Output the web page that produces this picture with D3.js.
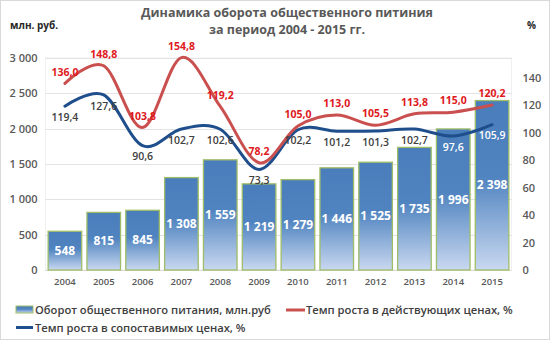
<!DOCTYPE html>
<html><head><meta charset="utf-8">
<script src="https://cdn.jsdelivr.net/npm/d3@7"></script>
<style>
html,body{margin:0;padding:0;background:#fff;}
svg{display:block;font-family:"Open Sans",sans-serif;}
</style></head>
<body><svg id="c" width="550" height="340"></svg>
<script>
const years = ["2004","2005","2006","2007","2008","2009","2010","2011","2012","2013","2014","2015"];
const turnover = [548,815,845,1308,1559,1219,1279,1446,1525,1735,1996,2398];
const growthCurrent = [136.0,148.8,103.8,154.8,119.2,78.2,105.0,113.0,105.5,113.8,115.0,120.2];
const growthComparable = [119.4,127.6,90.6,102.7,102.6,73.3,102.2,101.2,101.3,102.7,97.6,105.9];
const leftTicks = [0,500,1000,1500,2000,2500,3000];
const rightTicks = [0,20,40,60,80,100,120,140];
const titleLines = ["Динамика оборота общественного питиния","за период 2004 - 2015 гг."];
const legendLabels = ["Оборот общественного питания, млн.руб","Темп роста в действующих ценах, %","Темп роста в сопоставимых ценах, %"];

const svg = d3.select("#c");
const W = 550, H = 340;
const plot = {left:45.5, right:511.5, top:58, bottom:270};
const fmtSpace = v => d3.format(",")(v).replace(/,/g," ");
const fmtComma = v => v.toFixed(1).replace(".",",");

svg.append("rect").attr("x",0.5).attr("y",0.5).attr("width",W-1).attr("height",H-1)
  .attr("fill","#fff").attr("stroke","#d9d9d9");

const defs = svg.append("defs");
const grad = defs.append("linearGradient").attr("id","barGrad").attr("x1",0).attr("y1",0).attr("x2",0).attr("y2",1);
grad.append("stop").attr("offset","0%").attr("stop-color","#4a7dbb");
grad.append("stop").attr("offset","45%").attr("stop-color","#5084c0");
grad.append("stop").attr("offset","100%").attr("stop-color","#c9d8f0");

const x = d3.scaleBand().domain(years).range([plot.left, plot.right]).paddingInner(0.135).paddingOuter(0.0675);
const yL = d3.scaleLinear().domain([0,3000]).range([plot.bottom, plot.top]);
const yR = d3.scaleLinear().domain([0,154.5]).range([plot.bottom, plot.top]);

// plot area border
svg.append("rect").attr("x",plot.left).attr("y",plot.top).attr("width",plot.right-plot.left).attr("height",plot.bottom-plot.top)
  .attr("fill","none").attr("stroke","#f0f0f0");

// gridlines
svg.append("g").selectAll("line").data(leftTicks.filter(d=>d>0)).join("line")
  .attr("x1",plot.left).attr("x2",plot.right)
  .attr("y1",d=>Math.round(yL(d))+0.5).attr("y2",d=>Math.round(yL(d))+0.5)
  .attr("stroke","#e3e3e3");
svg.append("line").attr("x1",plot.left).attr("x2",plot.right).attr("y1",plot.bottom+0.5).attr("y2",plot.bottom+0.5).attr("stroke","#d9d9d9");

// left axis
const axL = svg.append("g").attr("transform",`translate(${plot.left},0)`)
  .call(d3.axisLeft(yL).tickValues(leftTicks).tickFormat(fmtSpace).tickSize(0).tickPadding(8));
axL.select(".domain").remove();
axL.selectAll("text").attr("fill","#595959").style("font-size","11px").style("font-weight","600").attr("font-family","Open Sans");

// right axis
const axR = svg.append("g").attr("transform",`translate(${plot.right},0)`)
  .call(d3.axisRight(yR).tickValues(rightTicks).tickSize(0).tickPadding(11));
axR.select(".domain").remove();
axR.selectAll("text").attr("fill","#595959").style("font-size","11px").style("font-weight","600").attr("font-family","Open Sans");

// x axis
const axX = svg.append("g").attr("transform",`translate(0,${plot.bottom})`)
  .call(d3.axisBottom(x).tickSize(0).tickPadding(8));
axX.select(".domain").remove();
axX.selectAll("text").attr("fill","#595959").style("font-size","9.5px").style("font-weight","600").attr("font-family","Open Sans");

// bars
svg.append("g").selectAll("rect").data(turnover).join("rect")
  .attr("x",(d,i)=>x(years[i])).attr("width",x.bandwidth())
  .attr("y",d=>yL(d)).attr("height",d=>yL(0)-yL(d))
  .attr("fill","url(#barGrad)").attr("stroke","#9fbd68").attr("stroke-width",1.3);

svg.append("g").selectAll("text").data(turnover).join("text")
  .attr("x",(d,i)=>x(years[i])+x.bandwidth()/2)
  .attr("y",d=>(yL(d)+yL(0))/2).attr("dy","0.35em")
  .attr("text-anchor","middle").attr("fill","#fff")
  .style("font-size","12px").style("font-weight","700")
  .text(fmtSpace);

const cx = i => x(years[i]) + x.bandwidth()/2;
const line = d3.line().x((d,i)=>cx(i)).y(d=>yR(d)).curve(d3.curveCardinal.tension(0));

svg.append("path").datum(growthComparable).attr("d",line).attr("fill","none")
  .attr("stroke","#1f4e8c").attr("stroke-width",3).attr("stroke-linecap","round");
svg.append("path").datum(growthCurrent).attr("d",line).attr("fill","none")
  .attr("stroke","#c9504f").attr("stroke-width",3).attr("stroke-linecap","round");

// line labels
svg.append("g").selectAll("text").data(growthCurrent).join("text")
  .attr("x",(d,i)=>cx(i)).attr("y",d=>yR(d)-11.5).attr("dy","0.35em")
  .attr("text-anchor","middle").attr("fill","#e0191c")
  .style("font-size","10.5px").style("font-weight","700")
  .text(fmtComma);
svg.append("g").selectAll("text").data(growthComparable).join("text")
  .attr("x",(d,i)=>cx(i)).attr("y",d=>yR(d)+11).attr("dy","0.35em")
  .attr("text-anchor","middle")
  .attr("fill",(d,i)=> yR(d)+11 > yL(turnover[i])+4 ? "#ffffff" : "#404040")
  .style("font-size","10.5px").style("font-weight","600")
  .text(fmtComma);

// titles
svg.append("g").selectAll("text").data(titleLines).join("text")
  .attr("x",287).attr("y",(d,i)=>16.5+i*17)
  .attr("text-anchor","middle").attr("fill","#595959")
  .style("font-size","12.5px").style("font-weight","700")
  .text(d=>d);
svg.append("text").attr("x",10).attr("y",29).attr("fill","#262626")
  .style("font-size","10px").style("font-weight","700").text("млн. руб.");
svg.append("text").attr("x",527).attr("y",29).attr("fill","#262626")
  .style("font-size","10px").style("font-weight","700").text("%");

// legend
const lg = svg.append("g");
lg.append("rect").attr("x",16).attr("y",306).attr("width",17).attr("height",7)
  .attr("fill","url(#barGrad)").attr("stroke","#9fbd68");
lg.append("text").attr("x",35).attr("y",314).text(legendLabels[0]);
lg.append("line").attr("x1",286).attr("x2",305).attr("y1",310).attr("y2",310).attr("stroke","#c9504f").attr("stroke-width",3);
lg.append("text").attr("x",306).attr("y",314).text(legendLabels[1]);
lg.append("line").attr("x1",16).attr("x2",33).attr("y1",327.5).attr("y2",327.5).attr("stroke","#1f4e8c").attr("stroke-width",3);
lg.append("text").attr("x",35).attr("y",332).text(legendLabels[2]);
lg.selectAll("text").attr("fill","#404040").style("font-size","11.2px").style("font-weight","600");
</script></body></html>
